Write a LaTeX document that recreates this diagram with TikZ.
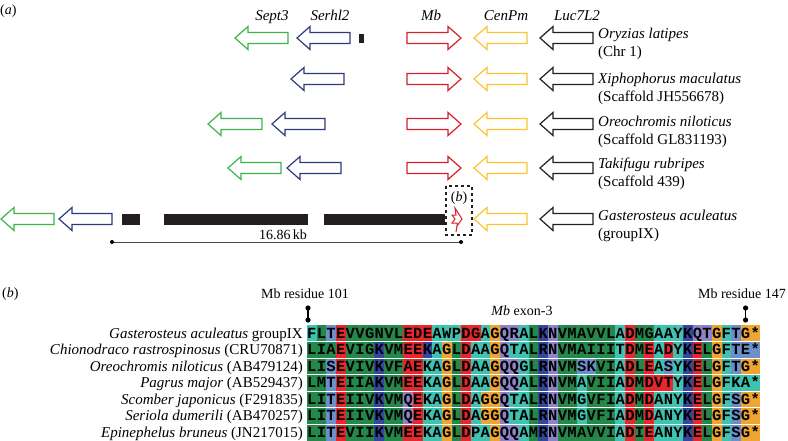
\documentclass[tikz,border=0pt]{standalone}
\usepackage{fontspec}
\setmainfont{Liberation Serif}
\setmonofont{Liberation Mono}
\usepackage{xstring}
\usetikzlibrary{calc}
\definecolor{genegreen}{HTML}{3DB54A}
\definecolor{genenavy}{HTML}{2E3A7C}
\definecolor{genered}{HTML}{D2232A}
\definecolor{geneyellow}{HTML}{FBC42E}
\definecolor{geneblack}{HTML}{231F20}
\definecolor{res-g}{HTML}{25884B}
\definecolor{res-t}{HTML}{3FC3B1}
\definecolor{res-r}{HTML}{E8262B}
\definecolor{res-b}{HTML}{3447A0}
\definecolor{res-l}{HTML}{6A8FCB}
\definecolor{res-p}{HTML}{8C83C8}
\definecolor{res-o}{HTML}{F0A530}
\newcommand{\GeneLeft}[4]{% tip x, tail x, y, colour
  \draw[#4, gene] (#1,#3) -- (#1+13,#3-11.5) -- (#1+13,#3-5.5) -- (#2,#3-5.5)
    -- (#2,#3+5.5) -- (#1+13,#3+5.5) -- (#1+13,#3+11.5) -- cycle;}
\newcommand{\GeneRight}[4]{% tail x, tip x, y, colour
  \draw[#4, gene] (#2,#3) -- (#2-13,#3-11.5) -- (#2-13,#3-5.5) -- (#1,#3-5.5)
    -- (#1,#3+5.5) -- (#2-13,#3+5.5) -- (#2-13,#3+11.5) -- cycle;}
\newcommand{\ColW}{9.64}
\newcommand{\RowH}{16.5}
\newcommand{\AlnX}{307}
\newcommand{\AlnY}{325}

\begin{document}
\begin{tikzpicture}[x=1pt, y=-1pt,
    gene/.style={line width=1.2pt, line join=miter},
    txt/.style={inner sep=0pt, font=\fontsize{15}{17}\selectfont},
    small/.style={inner sep=0pt, font=\fontsize{14}{16}\selectfont},
    residue/.style={inner sep=0pt, anchor=base, font=\ttfamily\bfseries\fontsize{15.5}{16}\selectfont},
  ]
% --- Background ------------------------------------------------------------------------
\fill[white] (0,0) rectangle (788,440);
\useasboundingbox (0,0) rectangle (788,440);

% --- (a): gene names ---------------------------------------------------------------------
\node[small, anchor=base west] (pa) at (0,14) {(\textit{a})};
\foreach \x/\g in {272/Sept3, 330/Serhl2, 431/Mb, 506/CenPm, 577/Luc7L2}
  \node[txt, anchor=base] (name-\g) at (\x,20) {\textit{\g}};

% --- (a): the genes shared by every row --------------------------------------------------
\foreach \y in {38, 79, 124, 168} {
  \GeneRight{407}{461}{\y}{genered}
  \GeneLeft{474}{527}{\y}{geneyellow}
  \GeneLeft{540}{593}{\y}{geneblack}
}
\GeneLeft{474}{527}{219}{geneyellow}
\GeneLeft{540}{593}{219}{geneblack}

% --- (a): Sept3 and Serhl2, row by row ---------------------------------------------------
\GeneLeft{235}{288}{38}{genegreen}
\GeneLeft{297}{350}{38}{genenavy}
\fill[geneblack] (359,34) rectangle (364,43);
\GeneLeft{291}{344}{79}{genenavy}
\GeneLeft{208}{262}{124}{genegreen}
\GeneLeft{272}{325}{124}{genenavy}
\GeneLeft{228}{281}{168}{genegreen}
\GeneLeft{287}{341}{168}{genenavy}
\GeneLeft{1}{54}{219}{genegreen}
\GeneLeft{59}{112}{219}{genenavy}

% --- (a): the stickleback gaps and the broken Mb -----------------------------------------
\foreach \x/\X in {122/140, 164/308, 324/445}
  \fill[geneblack] (\x,214) rectangle (\X,225);
\draw[genered, line width=1pt, line join=miter] (452,215) -- (456,215) -- (455,208) -- (462,219)
  -- (457,226) -- (457,223) -- (452,223) -- (455,219) -- cycle;
\draw[genered, line width=1pt] (457,226) -- (456,232);
\draw[geneblack, dashed, line width=1.2pt] (446,186) rectangle (472,235);
\node[small, anchor=base] (pb-box) at (459,201) {(\textit{b})};

% --- (a): species ------------------------------------------------------------------------
\foreach \y/\sp/\where in {38/Oryzias latipes/(Chr 1),
    83/Xiphophorus maculatus/(Scaffold JH556678),
    126/Oreochromis niloticus/(Scaffold GL831193),
    168/Takifugu rubripes/(Scaffold 439),
    220/Gasterosteus aculeatus/(groupIX)} {
  \node[txt, anchor=base west] (sp-\y) at (598,\y) {\textit{\sp}};
  \node[txt, anchor=base west] at (598,\y+18.5) {\where};
}

% --- (a): scale ----------------------------------------------------------------------------
\coordinate (scaleL) at (112,242);
\coordinate (scaleR) at (461,242);
\draw[black!70, line width=0.7pt] (scaleL) -- (scaleR);
\fill (scaleL) circle (2) (scaleR) circle (2);
\node[small, anchor=base] (kb) at (283,239) {16.86\,kb};

% --- (b): headings -------------------------------------------------------------------------
\node[small, anchor=base west] (pb) at (2,297) {(\textit{b})};
\node[small, anchor=base] (r101) at (305,298) {Mb residue 101};
\node[small, anchor=base] (exon) at (522,315) {\textit{Mb} exon-3};
\node[small, anchor=base] (r147) at (742,298) {Mb residue 147};
\foreach \x/\n in {308/a, 745.6/b} {
  \coordinate (pin-\n-top) at (\x,308);
  \coordinate (pin-\n-bot) at (\x,320);
  \draw[line width=1.5pt] (pin-\n-top) -- (pin-\n-bot);
  \fill (pin-\n-top) circle (2.6) (pin-\n-bot) circle (2.6);
}

% --- (b): the alignment, one row per species ----------------------------------------------
\foreach \k/\name/\seq/\cols in {
  0/{\textit{Gasterosteus aculeatus} groupIX}/FLTEVVGNVLEDEAWPDGAGQRALKNVMAVVLADMGAAYKQTGFTG*/tglrggggggrrrtttrrtopptgbpggggggtrggtttbppotloo,
  1/{\textit{Chionodraco rastrospinosus} (CRU70871)}/LIAEVIGKVMEEKAGLDAAGQTALRNVMAIIITDMEADYKELGFTE*/gggrgggbggrrbtogrttopttgbpggggggtrgrtrtbrgotlll,
  2/{\textit{Oreochromis niloticus} (AB479124)}/LISEVIVKVFAEKAGLDAAGQQGLRNVMSKVIADLEASYKELGFTG*/gglrgggbggrrttogrttopptgbpggllggtrgrtltbrgotloo,
  3/{\textit{Pagrus major} (AB529437)}/LMTEIIAKVMEEKAGLDAAGQQALRNVMAVIIADMDVTYKELGFKA*/gglrgggbggrrttogrttopptgbpggtgggtrgrrrtbrgotttt,
  4/{\textit{Scomber japonicus} (F291835)}/LITEIIVKVMQEKAGLDAGGQTALRNVMGVFIADMDANYKELGFSG*/gglrgggbggprttogrtoopttgbpggtgggtrgrtttbrgotloo,
  5/{\textit{Seriola dumerili} (AB470257)}/LITEIIVKVMQEKAGLDAGGQTALRNVMGVFIADMDANYKELGFSG*/gglrgggbggprttogrtoopttgbpggtgggtrgrtttbrgotloo,
  6/{\textit{Epinephelus bruneus} (JN217015)}/LITEVIIKVMEEKAGLDPAGQQAMRNVMAVVIADIEANYKELGFSG*/gglrgggbggrrttogrttopptgbpggggggtrgrtttbrgotloo} {
  \node[txt, anchor=base east] (lab-\k) at (303,{\AlnY+\k*\RowH+13}) {\name};
  \foreach \i in {1,...,47} {
    \StrChar{\seq}{\i}[\aa]
    \StrChar{\cols}{\i}[\cc]
    \fill[res-\cc] ({\AlnX+(\i-1)*\ColW},{\AlnY+\k*\RowH}) rectangle ++(\ColW+0.3,\RowH);
    \node[residue] (c-\k-\i) at ({\AlnX+(\i-0.5)*\ColW},{\AlnY+\k*\RowH+13.2}) {\aa};
  }
}
\foreach \k in {1,...,6}
  \draw[white, line width=0.8pt] (\AlnX,{\AlnY+\k*\RowH}) -- ++({47*\ColW},0);
\end{tikzpicture}
\end{document}
